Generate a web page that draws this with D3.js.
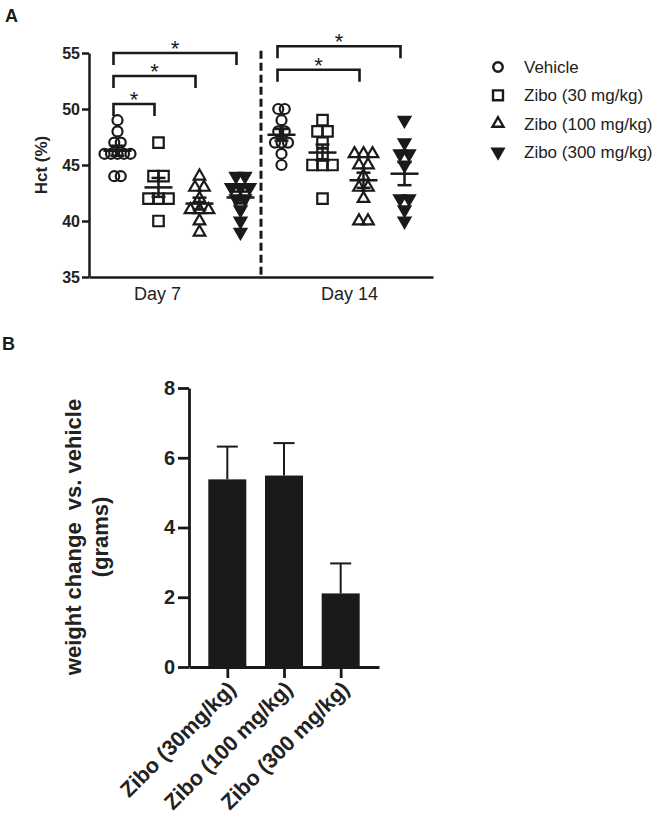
<!DOCTYPE html>
<html><head><meta charset="utf-8">
<script src="https://cdn.jsdelivr.net/npm/d3@7"></script>
<style>
body{margin:0;background:#fff}
svg{display:block;font-family:"Liberation Sans",Arial,sans-serif}
</style>
</head><body>
<svg id="c" width="653" height="823"></svg>
<script>
// ---------- Panel A data ----------
const days = ["Day 7", "Day 14"];
const groups = ["Vehicle", "Zibo (30 mg/kg)", "Zibo (100 mg/kg)", "Zibo (300 mg/kg)"];
const hctTicks = [35, 40, 45, 50, 55];
const day7Vehicle = [49, 48, 47, 47, 46, 46, 46, 46, 46, 44, 44];
const day7Zibo30 = [47, 44, 44, 42, 42, 42, 40];
const day7Zibo100 = [44, 43, 43, 42, 41, 41, 41, 40, 39];
const day7Zibo300 = [44, 44, 43, 43, 43, 42, 42, 41, 40, 39];
const day14Vehicle = [50, 50, 49, 48, 48, 47, 47, 47, 46, 45];
const day14Zibo30 = [49, 48, 48, 47, 46, 45, 45, 45, 42];
const day14Zibo100 = [46, 46, 46, 45, 45, 44, 43, 43, 42, 40, 40];
const day14Zibo300 = [49, 47, 46, 46, 45, 42, 42, 41, 40];
// significance brackets: [day, fromGroupIndex, toGroupIndex, bracket height (Hct %)]
const sigComparisons = [
  ["Day 7", 0, 1, 50.45],
  ["Day 7", 0, 2, 52.95],
  ["Day 7", 0, 3, 55.0],
  ["Day 14", 0, 2, 53.5],
  ["Day 14", 0, 3, 55.6]
];

// ---------- Panel B data ----------
const weightGroups = ["Zibo (30mg/kg)", "Zibo (100 mg/kg)", "Zibo (300 mg/kg)"];
const weightMeans = [5.38, 5.49, 2.11];
const weightErrors = [0.94, 0.93, 0.86];
const weightTicks = [0, 2, 4, 6, 8];

const hctData = [
  [day7Vehicle, day7Zibo30, day7Zibo100, day7Zibo300],
  [day14Vehicle, day14Zibo30, day14Zibo100, day14Zibo300]
];

const ink = "#1a1a1a";
const svg = d3.select("#c");

// ================= Panel A =================
const yA = d3.scaleLinear().domain([35, 55]).range([277, 53]);
const keys = days.flatMap(d => groups.map(g => d + "|" + g));
const xA = d3.scalePoint().domain(keys).range([89, 433]).padding(0.695);
const dayScale = d3.scalePoint().domain(days).range([157, 349]);

svg.append("text").attr("x", 5).attr("y", 22).attr("font-size", 18).attr("font-weight", "bold").attr("fill", ink).text("A");

const gA = svg.append("g");
// y axis
const yAxA = gA.append("g").attr("transform", "translate(89,0)")
  .call(d3.axisLeft(yA).tickValues(hctTicks).tickSize(7).tickSizeOuter(0).tickPadding(2));
yAxA.select(".domain").attr("stroke", ink).attr("stroke-width", 2.5);
yAxA.selectAll(".tick line").attr("stroke", ink).attr("stroke-width", 2.5);
yAxA.selectAll(".tick text").attr("font-size", 16).attr("font-weight", "bold").attr("fill", "#222").attr("font-family", null);

// x axis
const xAxA = gA.append("g").attr("transform", "translate(0,277)")
  .call(d3.axisBottom(xA).tickValues([]).tickSizeOuter(0));
xAxA.select(".domain").attr("stroke", ink).attr("stroke-width", 2.5);
const dayAx = gA.append("g").attr("transform", "translate(0,277)")
  .call(d3.axisBottom(dayScale).tickSize(0).tickPadding(10));
dayAx.select(".domain").remove();
dayAx.selectAll(".tick text").attr("font-size", 18).attr("fill", "#222").attr("font-family", null);

// y label
gA.append("text").attr("transform", "translate(47,165) rotate(-90)")
  .attr("text-anchor", "middle").attr("font-size", 17).attr("font-weight", "bold").attr("fill", "#222")
  .text("Hct (%)");

// dashed separator between days
const sepX = (xA(days[0] + "|" + groups[3]) + xA(days[1] + "|" + groups[0])) / 2;
gA.append("line").attr("x1", sepX).attr("x2", sepX).attr("y1", yA(55.2)).attr("y2", yA(35))
  .attr("stroke", ink).attr("stroke-width", 3).attr("stroke-dasharray", "8,4");

// symbols
const shapeInfo = [
  {type: d3.symbolCircle, size: Math.PI * 25, fill: "none", spacing: 6.5, rot: 0},
  {type: d3.symbolSquare, size: 110, fill: "none", spacing: 10, rot: 0},
  {type: d3.symbolTriangle, size: 58, fill: "none", spacing: 9, rot: 0},
  {type: d3.symbolTriangle, size: 58, fill: ink, spacing: 9, rot: 180}
];

const pts = [];
const stats = [];
days.forEach((d, di) => {
  groups.forEach((g, gi) => {
    const vals = hctData[di][gi];
    const cx = xA(d + "|" + g);
    const counts = d3.rollup(vals, v => v.length, v => v);
    const seen = new Map();
    vals.forEach(v => {
      const n = counts.get(v);
      const i = seen.get(v) || 0;
      seen.set(v, i + 1);
      pts.push({x: cx + (i - (n - 1) / 2) * shapeInfo[gi].spacing, v, gi});
    });
    const m = d3.mean(vals);
    const sem = d3.deviation(vals) / Math.sqrt(vals.length);
    stats.push({cx, m, sem});
  });
});

gA.append("g").selectAll("path").data(pts).join("path")
  .attr("d", p => d3.symbol().type(shapeInfo[p.gi].type).size(shapeInfo[p.gi].size)())
  .attr("transform", p => `translate(${p.x},${yA(p.v)}) rotate(${shapeInfo[p.gi].rot})`)
  .attr("fill", p => shapeInfo[p.gi].fill)
  .attr("stroke", ink).attr("stroke-width", 2.2);

// mean ± SEM
const st = gA.append("g").attr("stroke", ink).attr("stroke-width", 2.5);
stats.forEach(s => {
  st.append("line").attr("x1", s.cx - 14).attr("x2", s.cx + 14).attr("y1", yA(s.m)).attr("y2", yA(s.m));
  st.append("line").attr("x1", s.cx).attr("x2", s.cx).attr("y1", yA(s.m - s.sem)).attr("y2", yA(s.m + s.sem));
  [s.m - s.sem, s.m + s.sem].forEach(v =>
    st.append("line").attr("x1", s.cx - 7).attr("x2", s.cx + 7).attr("y1", yA(v)).attr("y2", yA(v)));
});

// significance brackets
const br = gA.append("g");
sigComparisons.forEach(([d, a, b, h]) => {
  const x1 = xA(d + "|" + groups[a]) - 4;
  const x2 = xA(d + "|" + groups[b]) - 4;
  const y = yA(h);
  br.append("path").attr("d", `M${x1},${y + 12}V${y}H${x2}V${y + 12}`)
    .attr("fill", "none").attr("stroke", ink).attr("stroke-width", 2.6);
  br.append("text").attr("x", (x1 + x2) / 2).attr("y", y + 3).attr("text-anchor", "middle")
    .attr("font-size", 22).attr("fill", ink).text("*");
});

// legend
const lg = svg.append("g");
groups.forEach((g, gi) => {
  const y = 67 + gi * 28.3;
  lg.append("path").attr("d", d3.symbol().type(shapeInfo[gi].type).size(shapeInfo[gi].size * 0.9)())
    .attr("transform", `translate(498,${y}) rotate(${shapeInfo[gi].rot})`)
    .attr("fill", shapeInfo[gi].fill).attr("stroke", ink).attr("stroke-width", 2.4);
  lg.append("text").attr("x", 524).attr("y", y).attr("dy", "0.35em")
    .attr("font-size", 17).attr("fill", "#222").text(g);
});

// ================= Panel B =================
svg.append("text").attr("x", 2).attr("y", 350).attr("font-size", 18).attr("font-weight", "bold").attr("fill", ink).text("B");

const yB = d3.scaleLinear().domain([0, 8]).range([667, 388]);
const xB = d3.scalePoint().domain(weightGroups).range([189, 379]).padding(0.676);
const barW = 38;
const gB = svg.append("g");

gB.selectAll("rect").data(weightGroups).join("rect")
  .attr("x", g => xB(g) - barW / 2).attr("width", barW)
  .attr("y", (g, i) => yB(weightMeans[i])).attr("height", (g, i) => yB(0) - yB(weightMeans[i]))
  .attr("fill", ink);

const eb = gB.append("g").attr("stroke", ink).attr("stroke-width", 2);
weightGroups.forEach((g, i) => {
  const top = yB(weightMeans[i] + weightErrors[i]);
  eb.append("line").attr("x1", xB(g)).attr("x2", xB(g)).attr("y1", yB(weightMeans[i])).attr("y2", top);
  eb.append("line").attr("x1", xB(g) - 10.5).attr("x2", xB(g) + 10.5).attr("y1", top).attr("y2", top);
});

const yAxB = gB.append("g").attr("transform", "translate(189,0)")
  .call(d3.axisLeft(yB).tickValues(weightTicks).tickSize(11).tickSizeOuter(0).tickPadding(3));
yAxB.select(".domain").attr("stroke", ink).attr("stroke-width", 2.8);
yAxB.selectAll(".tick line").attr("stroke", ink).attr("stroke-width", 2.8);
yAxB.selectAll(".tick text").attr("font-size", 20).attr("font-weight", "bold").attr("fill", "#222").attr("font-family", null);

const xAxB = gB.append("g").attr("transform", "translate(0,667)")
  .call(d3.axisBottom(xB).tickSize(11).tickSizeOuter(0));
xAxB.select(".domain").attr("stroke", ink).attr("stroke-width", 2.8);
xAxB.selectAll(".tick line").attr("stroke", ink).attr("stroke-width", 2.8);
xAxB.selectAll(".tick text")
  .attr("x", 0).attr("y", 0).attr("dy", "0.35em")
  .attr("transform", "translate(4,18) rotate(-45)")
  .attr("text-anchor", "end")
  .attr("font-size", 21.5).attr("font-weight", "bold").attr("fill", "#222").attr("font-family", null);

const yl = gB.append("text").attr("transform", "translate(0,537) rotate(-90)")
  .attr("text-anchor", "middle").attr("font-size", 22).attr("font-weight", "bold").attr("fill", "#222")
  .style("white-space", "pre");
yl.append("tspan").attr("x", 0).attr("y", 81).text("weight change  vs. vehicle");
yl.append("tspan").attr("x", 0).attr("y", 108).text("(grams)");
</script>
</body></html>
